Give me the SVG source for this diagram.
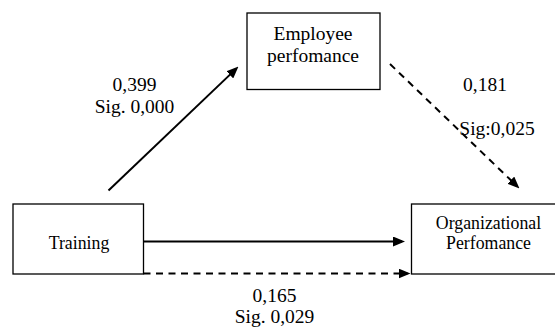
<svg xmlns="http://www.w3.org/2000/svg" width="555" height="327" viewBox="0 0 555 327">
  <style>
    .box { fill: #ffffff; stroke: #000000; stroke-width: 1.3; }
    .edge { fill: none; stroke: #000000; stroke-width: 2; }
    .dash { stroke-dasharray: 7 5.5; }
    text { font-family: "Liberation Serif", "Times New Roman", serif; font-size: 19.5px; fill: #000000; text-anchor: middle; }
    text.sm { font-size: 17.8px; }
  </style>
  <defs>
    <marker id="arrow" viewBox="0 0 12 10" markerWidth="12" markerHeight="10" refX="9" refY="5" orient="auto" markerUnits="userSpaceOnUse">
      <path d="M0,0 L12,5 L0,10 z" fill="#000000"/>
    </marker>
  </defs>
  <rect width="555" height="327" fill="#ffffff"/>

  <g id="employee">
    <rect class="box" x="247" y="13" width="133" height="76.5"/>
    <text x="313" y="39.5">Employee</text>
    <text x="313" y="62">perfomance</text>
  </g>

  <g id="training">
    <rect class="box" x="13" y="204" width="130.5" height="70"/>
    <text class="sm" x="79" y="248.5">Training</text>
  </g>

  <g id="organizational">
    <rect class="box" x="411.5" y="204" width="150" height="70"/>
    <text class="sm" x="488.5" y="228.5">Organizational</text>
    <text class="sm" x="488.5" y="248.5">Perfomance</text>
  </g>

  <g id="connectors">
    <line class="edge" x1="108.5" y1="190.5" x2="236.3" y2="68.6" marker-end="url(#arrow)"/>
    <line class="edge dash" x1="390" y1="64" x2="517.3" y2="186.4" marker-end="url(#arrow)"/>
    <line class="edge" x1="143.5" y1="241.5" x2="402" y2="241.5" marker-end="url(#arrow)"/>
    <line class="edge dash" x1="143.5" y1="273.5" x2="407.5" y2="273.5" marker-end="url(#arrow)"/>
  </g>

  <g id="labels">
    <text x="134.5" y="90.7">0,399</text>
    <text x="134.5" y="113.3">Sig. 0,000</text>
    <text x="485" y="90.7">0,181</text>
    <text x="497" y="135">Sig:0,025</text>
    <text x="274.5" y="301.7">0,165</text>
    <text x="274.5" y="323.3">Sig. 0,029</text>
  </g>
</svg>
